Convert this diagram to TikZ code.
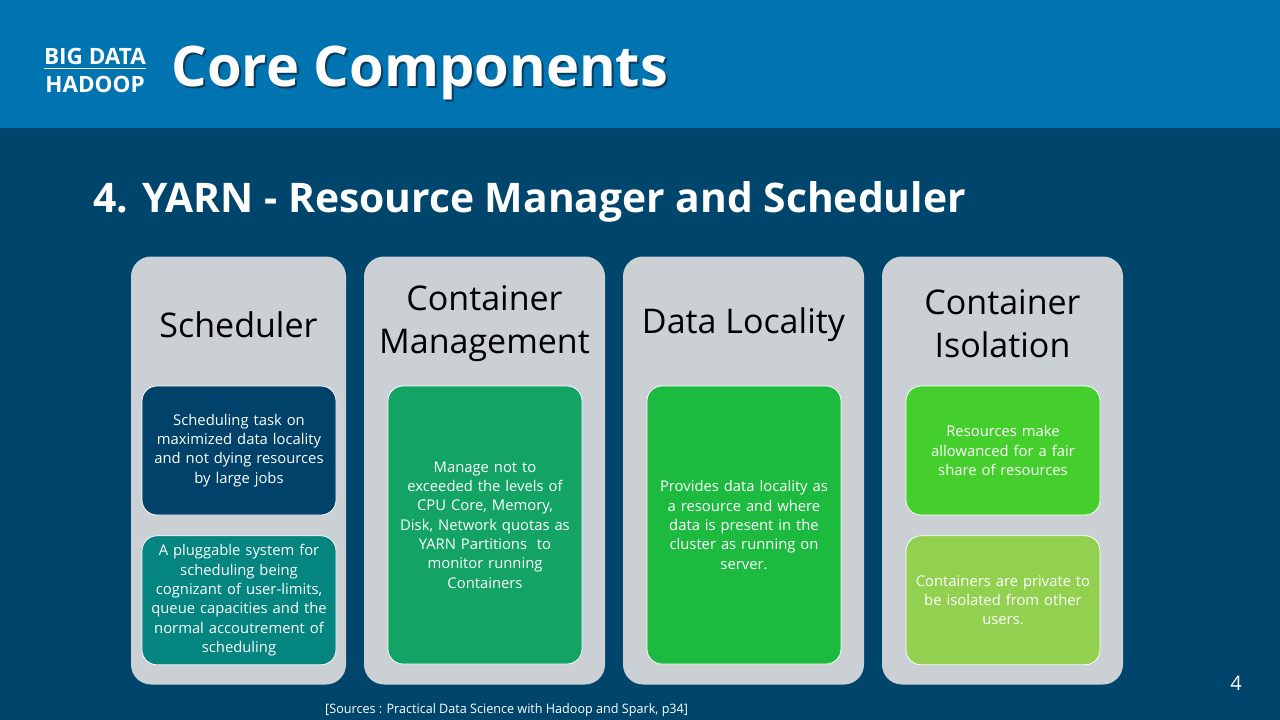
\documentclass[tikz,border=0pt]{standalone}
\usepackage{fontspec}
\setmainfont{Open Sans}
\usepackage{graphicx}
\usetikzlibrary{positioning}
\usepackage{xcolor}
\definecolor{band}     {HTML}{0073B1}
\definecolor{navy}     {HTML}{00456B}
\definecolor{panelgray}{HTML}{CBD0D4}
\definecolor{deepnavy} {HTML}{00426A}
\definecolor{tealcard} {HTML}{04857F}
\definecolor{jade}     {HTML}{12A365}
\definecolor{grass}    {HTML}{1DBA40}
\definecolor{lime}     {HTML}{45CF2D}
\definecolor{leaf}     {HTML}{92D050}
\definecolor{shade}    {HTML}{10263A}
\tikzset{
  panel/.style     = {fill=panelgray, rounded corners=20pt, inner sep=0pt,
                      minimum height=428pt},
  head/.style      = {font=\fontsize{34}{43}\selectfont, align=center, text=black},
  card/.style      = {draw=white, line width=0.8pt, rounded corners=15pt,
                      minimum width=194pt, text width=188pt, inner sep=0pt,
                      align=center, text=white,
                      font=\fontsize{14.8}{19.3}\selectfont},
  shortcard/.style = {card, minimum height=129pt},
  tallcard/.style  = {card, minimum height=278pt},
  brand/.style     = {font=\bfseries\fontsize{22.5}{24}\selectfont, text=white, inner sep=0pt},
}

\begin{document}
\begin{tikzpicture}[x=1pt, y=-1pt]
  \useasboundingbox (0,0) rectangle (1280,720);
  % slide background and header band
  \fill[navy] (0,0) rectangle (1280,720);
  \fill[band] (0,0) rectangle (1280,128);

  \node[brand] (bigdata) at (95,56) {BIG DATA};
  \node[brand] (hadoop)  at (95,84) {HADOOP};
  \draw[white, line width=1.2pt] ([yshift=-4pt]bigdata.south west) -- ([yshift=-4pt]bigdata.south east);

  \node[anchor=west, text=shade, opacity=0.7, font=\bfseries\fontsize{56}{60}\selectfont]
    (coreshadow) at (170,75) {Core Components};
  \node[anchor=west, text=white, font=\bfseries\fontsize{56}{60}\selectfont]
    (core) at (168,73) {Core Components};

  \node[anchor=west, text=white, font=\bfseries\fontsize{40.8}{44}\selectfont]
    (yarn) at (90,202) {4. YARN - Resource Manager and Scheduler};

  % four component panels
  \node[panel, minimum width=215pt] (colsched) at (238.5,470.5) {};
  \node[panel, minimum width=241pt] (colmgmt)  at (484.5,470.5) {};
  \node[panel, minimum width=241pt] (colloc)   at (743.5,470.5) {};
  \node[panel, minimum width=241pt] (coliso)   at (1002.5,470.5) {};

  \node[head] (tsched) at (238.5,325) {Scheduler};
  \node[head] (tmgmt)  at (484.5,324) {Container\\Management};
  \node[head] (tloc)   at (743.5,325) {Data Locality};
  \node[head] (tiso)   at (1002.5,324) {Container\\Isolation};

  % cards
  \node[shortcard, fill=deepnavy] (sched1) at (239,450.5)
    {Scheduling task on\\maximized data locality\\and not dying resources\\by large jobs};
  \node[shortcard, fill=tealcard, below=20pt of sched1] (sched2)
    {A pluggable system for\\scheduling being\\cognizant of user-limits,\\queue capacities and the\\normal accoutrement of\\scheduling};

  \node[tallcard, fill=jade] (mgmt) at (485,525)
    {Manage not to\\exceeded the levels of\\CPU Core, Memory,\\Disk, Network quotas as\\YARN Partitions\ \ to\\monitor running\\Containers};

  \node[tallcard, fill=grass] (loc) at (744,525)
    {Provides data locality as\\a resource and where\\data is present in the\\cluster as running on\\server.};

  \node[shortcard, fill=lime] (iso1) at (1003,450.5)
    {Resources make\\allowanced for a fair\\share of resources\\[10pt]};
  \node[shortcard, fill=leaf, below=20pt of iso1] (iso2)
    {Containers are private to\\be isolated from other\\users.};

  % footer
  \node[anchor=west, text=white, inner sep=0pt] (source) at (325,710)
    {\scalebox{0.97}[1]{\fontsize{13}{15}\selectfont [Sources : Practical Data Science with Hadoop and Spark, p34]}};
  \node[text=white, font=\fontsize{20}{22}\selectfont] (pagenum) at (1236,683) {4};
\end{tikzpicture}
\end{document}
